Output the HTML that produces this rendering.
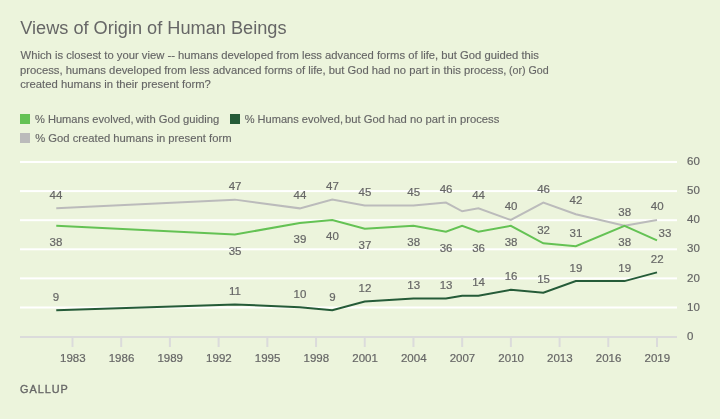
<!DOCTYPE html>
<html><head><meta charset="utf-8"><style>
html,body{margin:0;padding:0;background:#ECF4DC;}
body{width:720px;height:419px;overflow:hidden;position:relative;font-family:"Liberation Sans",Arial,sans-serif;}
svg{position:absolute;left:0;top:0;}
text{fill:#666666;}
.t{font-size:11.5px;stroke:#666666;stroke-width:0.2px;}
.title{font-size:18px;}
.sub{font-size:11.2px;stroke:#666666;stroke-width:0.15px;}
.leg{font-size:11.1px;stroke:#666666;stroke-width:0.15px;}
.foot{font-size:11px;letter-spacing:1px;stroke:#666666;stroke-width:0.35px;}
</style></head><body>
<svg width="720" height="419" viewBox="0 0 720 419">
<text id="title" x="20.22" y="33.7" class="title" textLength="266.26" lengthAdjust="spacingAndGlyphs">Views of Origin of Human Beings</text>
<text id="s1" x="20.56" y="59" class="sub" textLength="518.35" lengthAdjust="spacingAndGlyphs">Which is closest to your view -- humans developed from less advanced forms of life, but God guided this</text>
<text id="s2a" x="19.93" y="73.5" class="sub" textLength="141.35" lengthAdjust="spacingAndGlyphs">process, humans developed</text>
<text id="s2b" x="164.23" y="73.5" class="sub" textLength="342.19" lengthAdjust="spacingAndGlyphs">from less advanced forms of life, but God had no part in this process,</text>
<text id="s2c" x="508.91" y="73.5" class="sub" textLength="39.79" lengthAdjust="spacingAndGlyphs">(or) God</text>
<text id="s3" x="20.16" y="88" class="sub" textLength="190.73" lengthAdjust="spacingAndGlyphs">created humans in their present form?</text>
<rect x="20" y="114" width="10" height="10" fill="#64C254"/>
<text id="l1a" x="35.01" y="123" class="leg" textLength="98.63" lengthAdjust="spacingAndGlyphs">% Humans evolved,</text>
<text id="l1b" x="135.73" y="123" class="leg" textLength="83.57" lengthAdjust="spacingAndGlyphs">with God guiding</text>
<rect x="230" y="114" width="10" height="10" fill="#255B38"/>
<text id="l2a" x="244.70" y="123" class="leg" textLength="98.31" lengthAdjust="spacingAndGlyphs">% Humans evolved,</text>
<text id="l2b" x="344.90" y="123" class="leg" textLength="154.39" lengthAdjust="spacingAndGlyphs">but God had no part in process</text>
<rect x="20" y="133" width="10" height="10" fill="#BBBBBB"/>
<text id="l3" x="35.17" y="142" class="leg" textLength="196.35" lengthAdjust="spacingAndGlyphs">% God created humans in present form</text>
<rect x="20" y="161.00" width="657" height="2" fill="#FFFFFF"/>
<rect x="20" y="190.10" width="657" height="2" fill="#FFFFFF"/>
<rect x="20" y="219.20" width="657" height="2" fill="#FFFFFF"/>
<rect x="20" y="248.30" width="657" height="2" fill="#FFFFFF"/>
<rect x="20" y="277.40" width="657" height="2" fill="#FFFFFF"/>
<rect x="20" y="306.50" width="657" height="2" fill="#FFFFFF"/>
<rect x="20" y="336" width="657" height="2" fill="#DBDBDB"/>
<rect x="71.50" y="338" width="2" height="9" fill="#DBDBDB"/>
<text x="72.80" y="362" text-anchor="middle" class="t">1983</text>
<rect x="120.21" y="338" width="2" height="9" fill="#DBDBDB"/>
<text x="121.51" y="362" text-anchor="middle" class="t">1986</text>
<rect x="168.92" y="338" width="2" height="9" fill="#DBDBDB"/>
<text x="170.22" y="362" text-anchor="middle" class="t">1989</text>
<rect x="217.62" y="338" width="2" height="9" fill="#DBDBDB"/>
<text x="218.92" y="362" text-anchor="middle" class="t">1992</text>
<rect x="266.33" y="338" width="2" height="9" fill="#DBDBDB"/>
<text x="267.63" y="362" text-anchor="middle" class="t">1995</text>
<rect x="315.04" y="338" width="2" height="9" fill="#DBDBDB"/>
<text x="316.34" y="362" text-anchor="middle" class="t">1998</text>
<rect x="363.75" y="338" width="2" height="9" fill="#DBDBDB"/>
<text x="365.05" y="362" text-anchor="middle" class="t">2001</text>
<rect x="412.46" y="338" width="2" height="9" fill="#DBDBDB"/>
<text x="413.76" y="362" text-anchor="middle" class="t">2004</text>
<rect x="461.16" y="338" width="2" height="9" fill="#DBDBDB"/>
<text x="462.46" y="362" text-anchor="middle" class="t">2007</text>
<rect x="509.87" y="338" width="2" height="9" fill="#DBDBDB"/>
<text x="511.17" y="362" text-anchor="middle" class="t">2010</text>
<rect x="558.58" y="338" width="2" height="9" fill="#DBDBDB"/>
<text x="559.88" y="362" text-anchor="middle" class="t">2013</text>
<rect x="607.29" y="338" width="2" height="9" fill="#DBDBDB"/>
<text x="608.59" y="362" text-anchor="middle" class="t">2016</text>
<rect x="656.00" y="338" width="2" height="9" fill="#DBDBDB"/>
<text x="657.30" y="362" text-anchor="middle" class="t">2019</text>
<text x="687" y="164.98" class="t">60</text>
<text x="687" y="194.15" class="t">50</text>
<text x="687" y="223.32" class="t">40</text>
<text x="687" y="252.49" class="t">30</text>
<text x="687" y="281.66" class="t">20</text>
<text x="687" y="310.83" class="t">10</text>
<text x="687" y="340.00" class="t">0</text>
<polyline points="56.26,208.36 234.86,199.63 299.80,208.36 332.28,199.63 364.75,205.45 413.46,205.45 445.93,202.54 462.16,211.27 478.40,208.36 510.87,220.00 543.34,202.54 575.82,214.18 624.52,225.82 657.00,220.00" fill="none" stroke="#BBBBBB" stroke-width="2" stroke-linejoin="miter"/>
<polyline points="56.26,225.82 234.86,234.55 299.80,222.91 332.28,220.00 364.75,228.73 413.46,225.82 445.93,231.64 462.16,225.82 478.40,231.64 510.87,225.82 543.34,243.28 575.82,246.19 624.52,225.82 657.00,240.37" fill="none" stroke="#64C254" stroke-width="2" stroke-linejoin="miter"/>
<polyline points="56.26,310.21 234.86,304.39 299.80,307.30 332.28,310.21 364.75,301.48 413.46,298.57 445.93,298.57 462.16,295.66 478.40,295.66 510.87,289.84 543.34,292.75 575.82,281.11 624.52,281.11 657.00,272.38" fill="none" stroke="#255B38" stroke-width="2" stroke-linejoin="miter"/>
<text x="55.96" y="198.65" text-anchor="middle" class="t">44</text>
<text x="235.06" y="189.90" text-anchor="middle" class="t">47</text>
<text x="300.00" y="198.65" text-anchor="middle" class="t">44</text>
<text x="332.48" y="189.90" text-anchor="middle" class="t">47</text>
<text x="364.95" y="195.74" text-anchor="middle" class="t">45</text>
<text x="413.66" y="195.74" text-anchor="middle" class="t">45</text>
<text x="446.13" y="192.82" text-anchor="middle" class="t">46</text>
<text x="478.60" y="198.65" text-anchor="middle" class="t">44</text>
<text x="511.07" y="210.32" text-anchor="middle" class="t">40</text>
<text x="543.54" y="192.82" text-anchor="middle" class="t">46</text>
<text x="576.02" y="204.49" text-anchor="middle" class="t">42</text>
<text x="624.72" y="216.15" text-anchor="middle" class="t">38</text>
<text x="657.20" y="210.32" text-anchor="middle" class="t">40</text>
<text x="55.96" y="246.05" text-anchor="middle" class="t">38</text>
<text x="235.06" y="254.81" text-anchor="middle" class="t">35</text>
<text x="300.00" y="243.14" text-anchor="middle" class="t">39</text>
<text x="332.48" y="240.22" text-anchor="middle" class="t">40</text>
<text x="364.95" y="248.97" text-anchor="middle" class="t">37</text>
<text x="413.66" y="246.05" text-anchor="middle" class="t">38</text>
<text x="446.13" y="251.89" text-anchor="middle" class="t">36</text>
<text x="478.60" y="251.89" text-anchor="middle" class="t">36</text>
<text x="511.07" y="246.05" text-anchor="middle" class="t">38</text>
<text x="543.54" y="233.66" text-anchor="middle" class="t">32</text>
<text x="576.02" y="236.57" text-anchor="middle" class="t">31</text>
<text x="624.72" y="246.05" text-anchor="middle" class="t">38</text>
<text x="665.00" y="236.74" text-anchor="middle" class="t">33</text>
<text x="55.96" y="300.75" text-anchor="middle" class="t">9</text>
<text x="235.06" y="294.91" text-anchor="middle" class="t">11</text>
<text x="300.00" y="297.83" text-anchor="middle" class="t">10</text>
<text x="332.48" y="300.75" text-anchor="middle" class="t">9</text>
<text x="364.95" y="292.00" text-anchor="middle" class="t">12</text>
<text x="413.66" y="289.08" text-anchor="middle" class="t">13</text>
<text x="446.13" y="289.08" text-anchor="middle" class="t">13</text>
<text x="478.60" y="286.16" text-anchor="middle" class="t">14</text>
<text x="511.07" y="280.33" text-anchor="middle" class="t">16</text>
<text x="543.54" y="283.25" text-anchor="middle" class="t">15</text>
<text x="576.02" y="271.58" text-anchor="middle" class="t">19</text>
<text x="624.72" y="271.58" text-anchor="middle" class="t">19</text>
<text x="657.20" y="262.83" text-anchor="middle" class="t">22</text>
<text id="foot" x="19.98" y="393" class="foot" textLength="48.79" lengthAdjust="spacingAndGlyphs">GALLUP</text>
</svg>
</body></html>
